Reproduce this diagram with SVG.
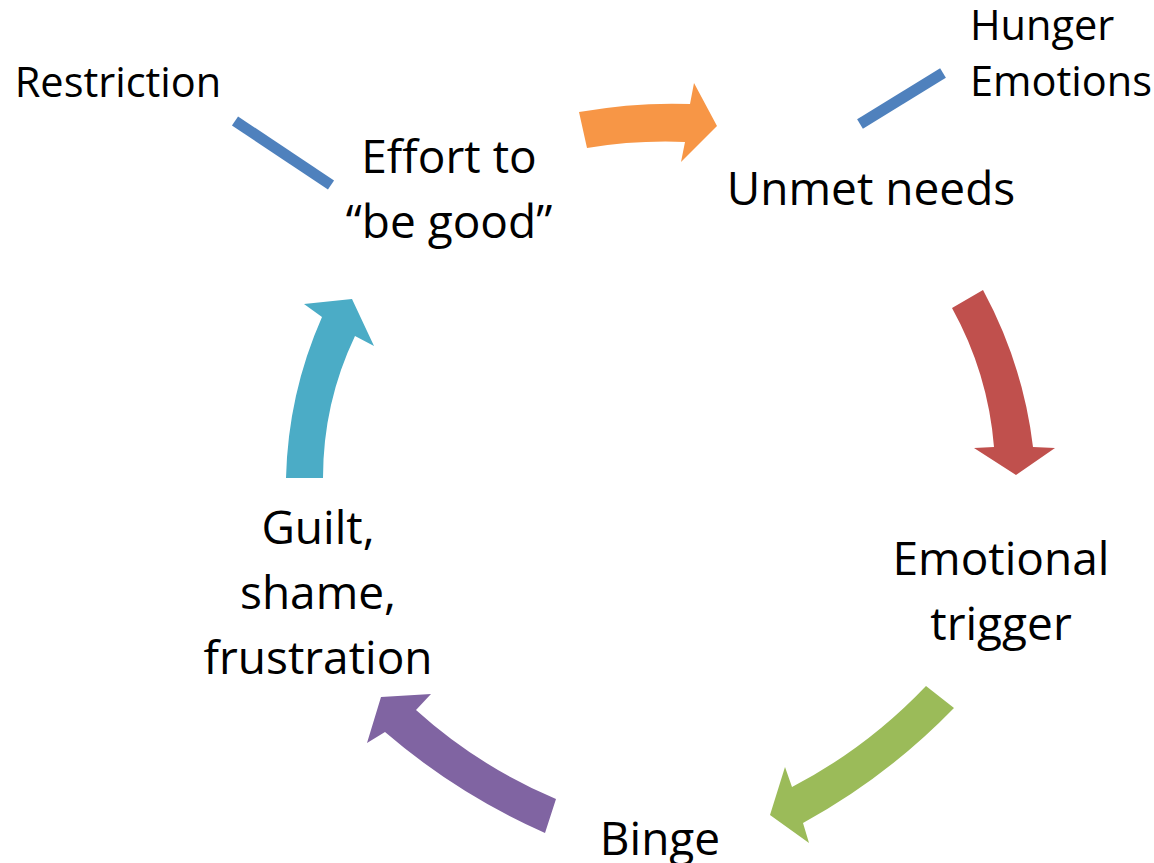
<svg xmlns="http://www.w3.org/2000/svg" width="1154" height="863" viewBox="0 0 1154 863">
  <style>
    .lbl { font-family: "Open Sans", "Liberation Sans", sans-serif; fill: #000; }
    .big { font-size: 46px; text-anchor: middle; }
    .small { font-size: 41.5px; }
    .link { stroke: #4F81BD; stroke-width: 11; stroke-linecap: butt; fill: none; }
  </style>
  <rect width="1154" height="863" fill="#fff"/>

  <!-- curved cycle arrows -->
  <g id="connectors">
    <path id="arrow-orange" fill="#F79646" d="M579,112 Q636,102 690,104 L694,83 L717,126 L681,162 L685,142 Q636,140 587,148 Z"/>
    <path id="arrow-red" fill="#C0504D" d="M952,308 L983,290 Q1023,364 1033,447 L1055,448 L1016,475 L974,448 L994,447 Q988,373 952,308 Z"/>
    <path id="arrow-green" fill="#9BBB59" d="M926,686 L954,708 Q887,777 803,823 L809,843 L770,815 L785,767 L792,787 Q867,748 926,686 Z"/>
    <path id="arrow-purple" fill="#8064A2" d="M556,799 L545,833 Q457,794 385,732 L367,743 L381,697 L431,694 L416,710 Q478,766 556,799 Z"/>
    <path id="arrow-cyan" fill="#4BACC6" d="M286,478 L323,478 Q323,403 355,336 L374,346 L352,299 L304,304 L322,317 Q288,394 286,478 Z"/>
    <line class="link" x1="235" y1="121" x2="331" y2="185"/>
    <line class="link" x1="860" y1="124" x2="943" y2="73"/>
  </g>

  <g id="node-restriction">
    <text class="lbl small" x="118" y="97" text-anchor="middle">Restriction</text>
  </g>
  <g id="node-hunger-emotions">
    <text class="lbl small" x="970" y="40">Hunger</text>
    <text class="lbl small" x="970" y="96">Emotions</text>
  </g>
  <g id="node-effort">
    <text class="lbl big" x="449" y="173">Effort to</text>
    <text class="lbl big" x="449" y="238">“be good”</text>
  </g>
  <g id="node-unmet">
    <text class="lbl big" x="871" y="205">Unmet needs</text>
  </g>
  <g id="node-trigger">
    <text class="lbl big" x="1001" y="575">Emotional</text>
    <text class="lbl big" x="1001" y="640">trigger</text>
  </g>
  <g id="node-binge">
    <text class="lbl big" x="660" y="855">Binge</text>
  </g>
  <g id="node-guilt">
    <text class="lbl big" x="318" y="544">Guilt,</text>
    <text class="lbl big" x="318" y="609">shame,</text>
    <text class="lbl big" x="318" y="674">frustration</text>
  </g>
</svg>
